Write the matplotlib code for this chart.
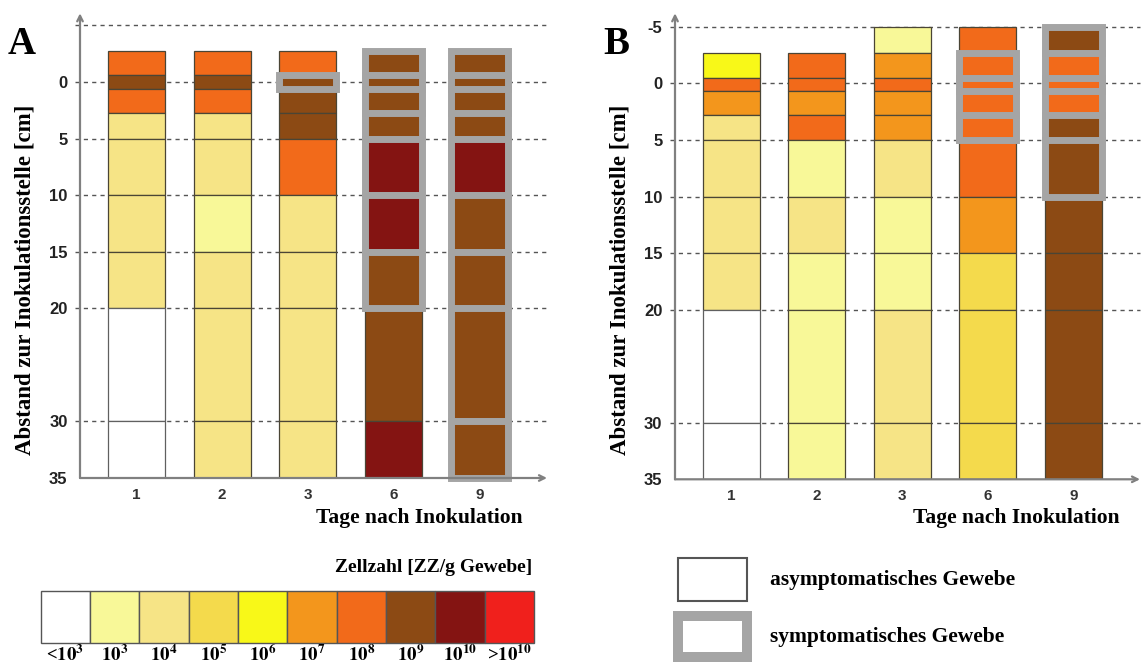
import matplotlib
matplotlib.use("Agg")
import matplotlib.pyplot as plt
from matplotlib.patches import Rectangle

plt.rcParams["mathtext.fontset"] = "stix"
plt.rcParams["mathtext.default"] = "bf"

# ---------------- data ----------------
days = ["1", "2", "3", "6", "9"]
level_labels = [r"<$10^{3}$", r"$10^{3}$", r"$10^{4}$", r"$10^{5}$", r"$10^{6}$",
                r"$10^{7}$", r"$10^{8}$", r"$10^{9}$", r"$10^{10}$", r">$10^{10}$"]
level_colors = ["#FFFFFF", "#F8F898", "#F6E486", "#F4DA4C", "#F8F818",
                "#F3961C", "#F26A1A", "#8C4A14", "#841412", "#F0201C"]

# Panel A: segment boundaries (cm) and cell-count class index per segment
edges_A = [-2.7, -0.6, 0.65, 2.75, 5, 10, 15, 20, 30, 35]
levels_A = [
    [6, 7, 6, 2, 2, 2, 2, 0, 0],   # day 1
    [6, 7, 6, 2, 2, 1, 2, 2, 2],   # day 2
    [6, 7, 7, 7, 6, 2, 2, 2, 2],   # day 3
    [7, 7, 7, 7, 8, 8, 7, 7, 8],   # day 6
    [7, 7, 7, 7, 8, 7, 7, 7, 7],   # day 9
]
sympt_A = [
    [0, 0, 0, 0, 0, 0, 0, 0, 0],
    [0, 0, 0, 0, 0, 0, 0, 0, 0],
    [0, 1, 0, 0, 0, 0, 0, 0, 0],
    [1, 1, 1, 1, 1, 1, 1, 0, 0],
    [1, 1, 1, 1, 1, 1, 1, 1, 1],
]

# Panel B
edges_B = [-5, -2.7, -0.5, 0.7, 2.75, 5, 10, 15, 20, 30, 35]
levels_B = [
    [None, 4, 6, 5, 2, 2, 2, 2, 0, 0],   # day 1
    [None, 6, 6, 5, 6, 1, 2, 1, 1, 1],   # day 2
    [1, 5, 6, 5, 5, 2, 1, 1, 2, 2],      # day 3
    [6, 6, 6, 6, 6, 6, 5, 3, 3, 3],      # day 6
    [7, 6, 6, 6, 7, 7, 7, 7, 7, 7],      # day 9
]
sympt_B = [
    [0, 0, 0, 0, 0, 0, 0, 0, 0, 0],
    [0, 0, 0, 0, 0, 0, 0, 0, 0, 0],
    [0, 0, 0, 0, 0, 0, 0, 0, 0, 0],
    [0, 1, 1, 1, 1, 0, 0, 0, 0, 0],
    [1, 1, 1, 1, 1, 1, 0, 0, 0, 0],
]

grid_vals = [-5, 0, 5, 10, 15, 20, 30]
yticks_A = [0, 5, 10, 15, 20, 30, 35]
yticks_B = [-5, 0, 5, 10, 15, 20, 30, 35]

# ---------------- figure ----------------
W, H = 1142, 665
fig = plt.figure(figsize=(W / 100, H / 100), dpi=100)
SERIF = ["Liberation Serif", "DejaVu Serif"]
SANS = ["Liberation Sans", "DejaVu Sans"]

BAR_W = 0.665
EDGE = "#4a4535"
SYM = "#A5A5A5"


def px_axes(x0, x1, y0, y1):
    return fig.add_axes([x0 / W, (H - y1) / H, (x1 - x0) / W, (y1 - y0) / H])


def draw_panel(ax, edges, levels, sympt, yticks, ytop, xright):
    ax.set_xlim(-0.66, xright)
    ax.set_ylim(35, ytop)
    for s in ax.spines.values():
        s.set_visible(False)
    ax.hlines(grid_vals, -0.72, xright, colors="#555555", linewidth=1.0,
              linestyles=(0, (3, 3)), zorder=0, clip_on=False)
    # non-symptomatic first
    for i, (lv, sy) in enumerate(zip(levels, sympt)):
        for j, code in enumerate(lv):
            if code is None or sy[j]:
                continue
            top, bot = edges[j], edges[j + 1]
            ax.bar(i, bot - top, bottom=top, width=BAR_W, color=level_colors[code],
                   edgecolor=EDGE if code else "#606060", linewidth=0.9, zorder=2)
    for i, (lv, sy) in enumerate(zip(levels, sympt)):
        for j, code in enumerate(lv):
            if code is None or not sy[j]:
                continue
            top, bot = edges[j], edges[j + 1]
            ax.bar(i, bot - top, bottom=top, width=BAR_W, color=level_colors[code],
                   edgecolor=SYM, linewidth=5, zorder=3, clip_on=False)
    ax.set_xticks(range(len(days)))
    ax.set_xticklabels(days, fontsize=11, fontweight="bold", family=SANS, color="#333333")
    ax.set_yticks(yticks)
    ax.set_yticklabels([str(v) for v in yticks], fontsize=12, fontweight="bold",
                       family=SANS, color="#222222")
    ax.tick_params(axis="both", length=0)
    ax.tick_params(axis="y", pad=9)
    ax.tick_params(axis="x", pad=7)
    ax.annotate("", xy=(0, 1), xytext=(0, 0), xycoords="axes fraction",
                arrowprops=dict(arrowstyle="->", color="#808080", lw=1.6,
                                shrinkA=0, shrinkB=0), annotation_clip=False)
    ax.annotate("", xy=(1, 0), xytext=(0, 0), xycoords="axes fraction",
                arrowprops=dict(arrowstyle="->", color="#808080", lw=1.6,
                                shrinkA=0, shrinkB=0), annotation_clip=False)
    ax.set_facecolor("none")


axA = px_axes(80, 547, 13.3, 478)
draw_panel(axA, edges_A, levels_A, sympt_A, yticks_A, -6.07, 4.79)
axB = px_axes(675, 1140, 13.3, 479.3)
draw_panel(axB, edges_B, levels_B, sympt_B, yticks_B, -6.2, 4.78)

# overlay in pixel coordinates for labels and legends
ov = fig.add_axes([0, 0, 1, 1])
ov.set_xlim(0, W)
ov.set_ylim(H, 0)
ov.axis("off")
ov.set_zorder(-1)

ov.text(8, 44, "A", fontsize=28, fontweight="bold", family=SERIF, va="center", ha="left")
ov.text(603, 44, "B", fontsize=28, fontweight="bold", family=SERIF, va="center", ha="left")

ylab = "Abstand zur Inokulationsstelle [cm]"
ov.text(25, 280, ylab, rotation=90, fontsize=16.5, fontweight="bold", family=SERIF,
        ha="center", va="center")
ov.text(620, 280, ylab, rotation=90, fontsize=16.5, fontweight="bold", family=SERIF,
        ha="center", va="center")
xlab = "Tage nach Inokulation"
ov.text(523, 518, xlab, fontsize=15.5, fontweight="bold", family=SERIF, ha="right", va="center")
ov.text(1120, 518, xlab, fontsize=15.5, fontweight="bold", family=SERIF, ha="right", va="center")

# colour scale legend
ov.text(532, 567, "Zellzahl [ZZ/g Gewebe]", fontsize=14, fontweight="bold", family=SERIF,
        ha="right", va="center")
cb_x0, cb_x1, cb_y0, cb_y1 = 40.5, 534, 591, 643
cw = (cb_x1 - cb_x0) / len(level_colors)
for k, (c, lab) in enumerate(zip(level_colors, level_labels)):
    ov.add_patch(Rectangle((cb_x0 + k * cw, cb_y0), cw, cb_y1 - cb_y0, facecolor=c,
                           edgecolor="#555555", linewidth=1.0))
    ov.text(cb_x0 + (k + 0.5) * cw, 655, lab, fontsize=13.5, fontweight="bold",
            family=SERIF, ha="center", va="center")

# symptomatic legend
ov.add_patch(Rectangle((678, 558), 69, 43, facecolor="white", edgecolor="#555555", linewidth=1.5))
ov.text(770, 580, "asymptomatisches Gewebe", fontsize=15.5, fontweight="bold",
        family=SERIF, ha="left", va="center")
ov.add_patch(Rectangle((678, 616), 69, 40.5, facecolor="white", edgecolor=SYM, linewidth=7.2))
ov.text(770, 637, "symptomatisches Gewebe", fontsize=15.5, fontweight="bold",
        family=SERIF, ha="left", va="center")

fig.savefig("out.png", dpi=100, facecolor="white")
